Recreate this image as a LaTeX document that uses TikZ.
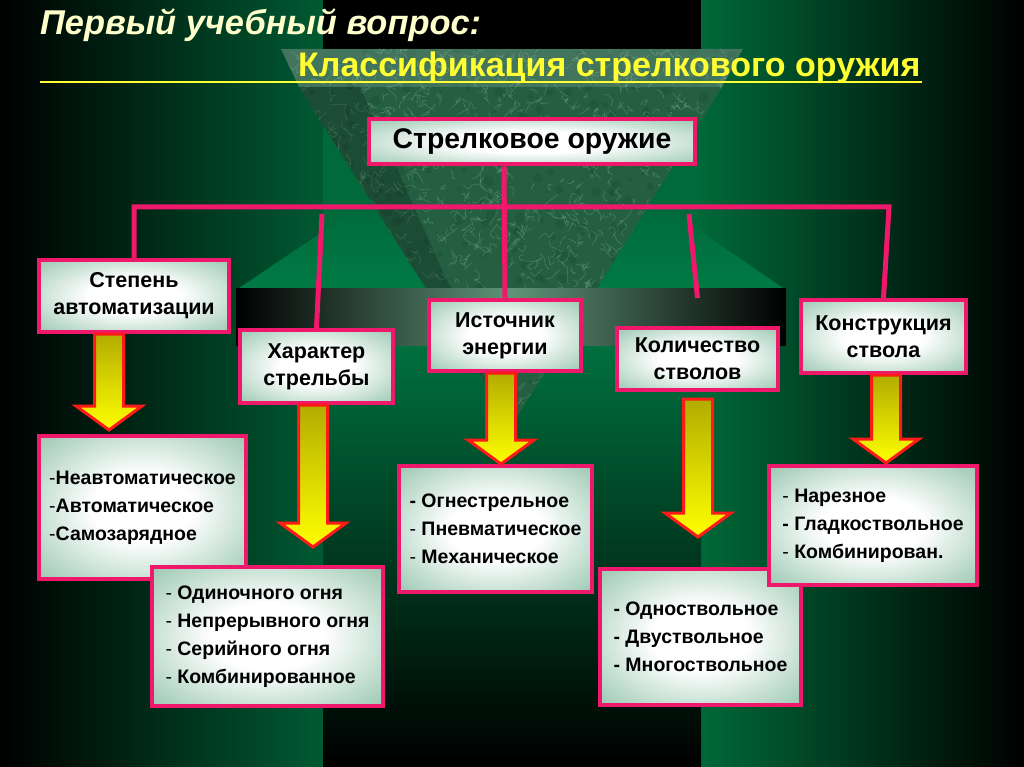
\documentclass[tikz,border=0pt]{standalone}
\usepackage{fontspec}
\setmainfont{Liberation Sans}
\usetikzlibrary{calc}
\definecolor{bgleft}{HTML}{005A32}
\definecolor{bgright}{HTML}{006838}
\definecolor{bgmid}{HTML}{006A3B}
\definecolor{bglow}{HTML}{00703E}
\definecolor{platform}{HTML}{007A44}
\definecolor{bandgrey}{HTML}{5F9478}
\definecolor{marblebase}{HTML}{245F42}
\definecolor{marblevein}{HTML}{9AD2B0}
\definecolor{marbledark}{HTML}{12402A}
\definecolor{boxgreen}{HTML}{5EA683}
\definecolor{rimpink}{HTML}{F0186A}
\definecolor{arrowred}{HTML}{FF1A1A}
\definecolor{arrowolive}{HTML}{B2AC00}
\definecolor{arrowyellow}{HTML}{FFFF00}
\definecolor{titlecream}{HTML}{FFFFCC}
\definecolor{titleyellow}{HTML}{FFFF33}
\pgfdeclareradialshading{boxglow}{\pgfpoint{0bp}{0bp}}{color(0bp)=(white); color(12bp)=(white); color(50bp)=(boxgreen); color(75bp)=(boxgreen)}
\newcommand\lightdash{{\mdseries -}}
\tikzset{
  box/.style={draw=rimpink, line width=4pt, shading=boxglow, align=center,
              inner sep=2pt, font=\bfseries\fontsize{21.5}{27}\selectfont},
  topbox/.style={box, font=\bfseries\fontsize{28.4}{32}\selectfont},
  listbox/.style={box, align=left, font=\bfseries\fontsize{19.5}{28}\selectfont},
  link/.style={draw=rimpink, line width=5pt, line join=miter},
  underline/.style={draw=titleyellow, line width=2.6pt},
  blockarrow/.style={draw=arrowred, line width=3pt, line join=miter,
                     top color=arrowolive, bottom color=arrowyellow,
    to path={let \p1=(\tikztostart), \p2=(\tikztotarget) in
      (\x1-14.5pt,\y1) -- (\x1+14.5pt,\y1) -- (\x1+14.5pt,\y2+24pt)
      -- (\x1+33pt,\y2+24pt) -- (\x1,\y2) -- (\x1-33pt,\y2+24pt)
      -- (\x1-14.5pt,\y2+24pt) -- cycle}}
}

\begin{document}
\begin{tikzpicture}[x=1pt,y=1pt]
    \useasboundingbox (0,0) rectangle (1024,-767);
    % ===== background =====
    \shade[left color=black, right color=bgleft] (0,0) rectangle (323,-767);
    \shade[left color=bgright, right color=black] (701,0) rectangle (1024,-767);
    \fill[black] (323,0) rectangle (701,-49);
    \fill[bgmid] (323,-49) rectangle (701,-345);
    \shade[top color=bglow, bottom color=black] (323,-345) rectangle (701,-767);
    % platform under the funnel
    \shade[top color=bgmid, bottom color=platform]
      (370,-200) -- (655,-200) -- (786,-290) -- (236,-290) -- cycle;
    % ===== marble funnel =====
    \begin{scope}
      \clip (281,-49) -- (743,-49) -- (722,-87) -- (512,-425) -- (299,-87) -- cycle;
      \fill[marblebase] (281,-49) rectangle (743,-425);
      \pgfmathsetseed{7}
      \foreach \i in {1,...,400}{
        \pgfmathsetmacro{\mx}{280+rnd*465}
        \pgfmathsetmacro{\my}{-49-rnd*380}
        \fill[marbledark, opacity=0.22] (\mx,\my) circle ({1.5+rnd*4});
      }
      \foreach \i in {1,...,1300}{
        \pgfmathsetmacro{\mx}{280+rnd*465}
        \pgfmathsetmacro{\my}{-49-rnd*380}
        \draw[marblevein, opacity=0.28, line width=0.6pt, rounded corners=2pt]
          (\mx,\my) -- ++({rand*7},{rand*7}) -- ++({rand*7},{rand*7}) -- ++({rand*7},{rand*7});
      }
      \fill[white, opacity=0.14] (281,-49) -- (743,-49) -- (722,-87) -- (299,-87) -- cycle;
      \fill[black, opacity=0.2] (299,-87) -- (360,-87) -- (512,-425) -- cycle;
    \end{scope}
    % grey slab
    \shade[left color=black, right color=black, middle color=bandgrey]
      (236,-288) rectangle (786,-345);

    % ===== titles =====
    \node[font=\bfseries\itshape\fontsize{34.4}{38}\selectfont, text=titlecream,
          anchor=base west, inner sep=0pt] (question) at (40,-35) {Первый учебный вопрос:};
    \node[font=\bfseries\fontsize{34}{38}\selectfont, text=titleyellow,
          anchor=base west, inner sep=0pt] (topic) at (298,-77) {Классификация стрелкового оружия};
    \draw[underline] (40,-82) -- (922,-82);

    % ===== boxes =====
    \node[topbox, minimum width=326, minimum height=45] (weapon) at (532,-142) {Стрелковое оружие};
    \node[box, minimum width=190, minimum height=72] (stepen) at (134,-296) {Степень\\автоматизации};
    \node[box, minimum width=153, minimum height=73] (harakter) at (316.5,-366.5) {Характер\\стрельбы};
    \node[box, minimum width=152, minimum height=71] (istochnik) at (505,-335.5) {Источник\\энергии};
    \node[box, minimum width=161, minimum height=62] (kolich) at (697.5,-359) {Количество\\стволов};
    \node[box, minimum width=165, minimum height=73] (konstr) at (883.5,-336.5) {Конструкция\\ствола};

    \node[listbox, minimum width=207, minimum height=143] (avtom) at (142.5,-507.5)
      {\lightdash Неавтоматическое\\\lightdash Автоматическое\\\lightdash Самозарядное};
    \node[listbox, minimum width=231, minimum height=139] (ogon) at (267.5,-636.5)
      {\lightdash{} Одиночного огня\\\lightdash{} Непрерывного огня\\\lightdash{} Серийного огня\\\lightdash{} Комбинированное};
    \node[listbox, minimum width=193, minimum height=126] (energ) at (495.5,-529)
      {- Огнестрельное\\\lightdash{} Пневматическое\\\lightdash{} Механическое};
    \node[listbox, minimum width=201, minimum height=136] (stvoly) at (700.5,-637)
      {- Одноствольное\\- Двуствольное\\- Многоствольное};
    \node[listbox, minimum width=208, minimum height=119] (nareznoe) at (873,-525.5)
      {\lightdash{} Нарезное\\- Гладкоствольное\\\lightdash{} Комбинирован.};

    % ===== links =====
    \coordinate (busL) at (134,-207);
    \coordinate (busR) at (889,-207);
    \coordinate (drop2) at (322,-214);
    \coordinate (drop4) at (689,-214);
    \draw[link] (stepen.north) -- (busL) -- (busR) -- (konstr.north);
    \draw[link] ([xshift=-28]weapon.south) -- (istochnik.north);
    \draw[link] (drop2) -- (harakter.north);
    \draw[link] (drop4) -- ([yshift=28]kolich.north);

    % ===== block arrows =====
    \draw[blockarrow] ([xshift=-25]stepen.south) to ([yshift=4]avtom.north);
    \draw[blockarrow] ([xshift=-3.5]harakter.south) to ([yshift=18]ogon.north);
    \draw[blockarrow] ([xshift=-4]istochnik.south) to (energ.north);
    \draw[blockarrow] ([xshift=0.5,yshift=-7]kolich.south) to ([yshift=30]stvoly.north);
    \draw[blockarrow] ([xshift=2.5]konstr.south) to ([yshift=1]nareznoe.north);
\end{tikzpicture}
\end{document}
